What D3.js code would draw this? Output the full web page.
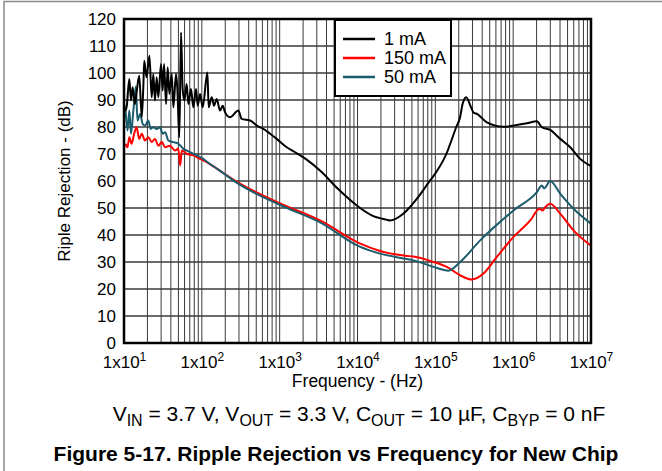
<!DOCTYPE html>
<html>
<head>
<meta charset="utf-8">
<script src="https://cdn.jsdelivr.net/npm/d3@7"></script>
<style>
  body { margin: 0; background: #fff; }
  svg text { font-family: "Liberation Sans", Arial, sans-serif; }
</style>
</head>
<body>
<div id="chart"></div>
<script>
// data (Hz, dB)
const blackFreq = [10.3, 10.8, 11.7, 12.3, 12.9, 13.8, 14.5, 15.7, 16.9, 17.7, 18.2, 19.5, 21.2, 22.7, 23.8, 25.0, 26.3, 27.6, 29.9, 31.4, 32.7, 34.7, 36.4, 38.3, 41.0, 43.1, 46.6, 48.5, 51.4, 54.0, 56.7, 59.6, 63.9, 67.1, 72.6, 77.8, 84.2, 88.5, 94.8, 102.6, 117.8, 122.5, 133.9, 143.6, 155.3, 171.4, 185.4, 198.6, 230, 295, 325, 417, 508, 618, 753, 917, 1233, 1607, 2200, 3404, 5598, 10470, 15240, 23600, 26200, 36560, 43000, 60100, 85700, 99400, 144500, 155000, 185400, 208000, 224000, 249000, 287600, 309000, 346700, 459000, 750000, 1.11e6, 1.5e6, 2.02e6, 2.34e6, 2.99e6, 4.02e6, 5.41e6, 7.27e6, 1e7];
const blackDb = [86, 87.3, 97.8, 89.8, 94.7, 88.5, 92.8, 99.0, 83.6, 94.7, 104.5, 98.4, 106.4, 91.0, 99.6, 89.8, 98.4, 91.0, 103.3, 93.5, 103.3, 88.5, 102.1, 92.2, 99.6, 87.3, 99.6, 94.1, 76.2, 115.0, 94.1, 89.8, 95.9, 88.5, 94.1, 87.3, 94.1, 87.9, 92.2, 87.3, 100.2, 87.3, 91.0, 87.9, 90.4, 86.1, 87.9, 85.5, 83.6, 86.1, 83.0, 82.4, 80.5, 79.3, 77.5, 75.6, 72.5, 70.5, 68, 63.5, 57.1, 50.3, 47.3, 45.7, 45.4, 47.3, 49.1, 54.0, 60.2, 62.7, 71.3, 73.7, 79.9, 83.6, 88.5, 91.0, 87.3, 85.4, 84.8, 81.7, 80.1, 80.7, 81.4, 82.1, 79.9, 78.9, 75.6, 72.5, 68.2, 65.5];

const redFreq = [10.4, 11.1, 11.7, 12.5, 13.5, 14.5, 15.7, 16.9, 18.6, 20.5, 22.7, 25.0, 27.6, 30.6, 33.7, 39.0, 45.1, 49.9, 52.7, 55.4, 63.9, 77.8, 94.8, 115, 163, 279, 1000, 3400, 10500, 19500, 41400, 52400, 94700, 140000, 208000, 294000, 415000, 617000, 1.01e6, 1.66e6, 2.18e6, 2.38e6, 2.58e6, 2.99e6, 4.02e6, 5.96e6, 1e7];
const redDb = [73.8, 72.5, 76.2, 73.8, 77.5, 79.9, 75.6, 77.5, 75.0, 76.2, 74.4, 75.6, 73.1, 74.4, 72.5, 73.1, 71.3, 71.9, 65.7, 71.3, 70.1, 69.5, 68.2, 67.0, 64.2, 59.8, 51.8, 45.2, 37.0, 34.1, 32.3, 32.0, 30.0, 28.2, 25.1, 23.5, 25.7, 31.9, 39.3, 45.4, 49.7, 49.1, 50.3, 51.6, 47.9, 41.7, 36.0];

const tealFreq = [10.4, 11.1, 11.7, 12.3, 13.2, 14.2, 14.9, 16.1, 17.4, 18.6, 20.5, 22.0, 23.8, 26.3, 29.0, 31.4, 33.7, 37.1, 43.1, 49.9, 58.2, 70.5, 85.6, 104, 126, 163, 279, 1000, 3400, 10500, 19500, 41400, 52400, 94700, 147700, 208400, 376700, 1.01e6, 2.02e6, 2.34e6, 2.5e6, 2.99e6, 4.02e6, 5.96e6, 1e7];
const tealDb = [87.9, 78.7, 86.1, 77.5, 86.1, 95.0, 82.4, 84.8, 81.1, 80.5, 82.4, 79.3, 79.9, 79.3, 79.9, 77.5, 78.1, 75.0, 74.4, 73.8, 71.9, 70.7, 69.5, 68.2, 66.4, 64.2, 59.4, 51.2, 44.5, 35.8, 33.1, 31.2, 30.6, 28.2, 26.8, 30.0, 38.0, 49.1, 55.9, 58.3, 57.3, 60.0, 55.3, 49.7, 44.2];

const seriesNames = ["1 mA", "150 mA", "50 mA"];
const seriesColors = ["#000000", "#ff0000", "#1b5c6c"];
const yTicks = d3.range(0, 121, 10);
const xTickExps = [1, 2, 3, 4, 5, 6, 7];

const svgWidth = 662, svgHeight = 471;
const margin = { top: 19, right: 71, bottom: 128, left: 124 };
const width = svgWidth - margin.left - margin.right;
const height = svgHeight - margin.top - margin.bottom;

const svg = d3.select("#chart").append("svg")
  .attr("width", svgWidth)
  .attr("height", svgHeight);

// page frame (left + top edges)
svg.append("path")
  .attr("d", `M4,${svgHeight} V1.5 H${svgWidth}`)
  .attr("fill", "none")
  .attr("stroke", "#8a8a8a")
  .attr("stroke-width", 1.5);

const g = svg.append("g").attr("transform", `translate(${margin.left},${margin.top})`);

const x = d3.scaleLog().domain([10, 1e7]).range([0, width]);
const y = d3.scaleLinear().domain([0, 120]).range([height, 0]);

// grid: vertical minor + decade lines
const vLines = [];
for (let e = 1; e < 7; e++) {
  for (let m = 1; m < 10; m++) vLines.push(m * Math.pow(10, e));
}
g.append("g").selectAll("line").data(vLines).enter().append("line")
  .attr("x1", d => x(d)).attr("x2", d => x(d))
  .attr("y1", 0).attr("y2", height)
  .attr("stroke", "#3a3a3a")
  .attr("stroke-width", 1);

g.append("g").selectAll("line").data(yTicks).enter().append("line")
  .attr("x1", 0).attr("x2", width)
  .attr("y1", d => y(d)).attr("y2", d => y(d))
  .attr("stroke", "#3a3a3a")
  .attr("stroke-width", 1.3);

// y axis labels
const yAxis = d3.axisLeft(y).tickValues(yTicks).tickSize(0).tickPadding(8);
const yg = g.append("g").call(yAxis);
yg.select(".domain").remove();
yg.selectAll("text").attr("font-size", 17).attr("fill", "#000")
  .attr("font-family", "Liberation Sans, Arial, sans-serif");

// x axis labels with superscripts
const xAxis = d3.axisBottom(x).tickValues(xTickExps.map(e => Math.pow(10, e))).tickSize(0).tickFormat("");
const xg = g.append("g").attr("transform", `translate(0,${height})`).call(xAxis);
xg.select(".domain").remove();
xg.selectAll(".tick").append("text")
  .attr("y", 25)
  .attr("text-anchor", "middle")
  .attr("font-size", 17)
  .attr("fill", "#000")
  .each(function(d) {
    const t = d3.select(this);
    t.append("tspan").text("1x10");
    t.append("tspan").attr("dy", -7).attr("font-size", 12).text(Math.round(Math.log10(d)));
  });

// curves
const line = d3.line()
  .x(d => x(d[0]))
  .y(d => y(d[1]))
  .curve(d3.curveMonotoneX);

const series = [
  { name: seriesNames[0], color: seriesColors[0], pts: d3.zip(blackFreq, blackDb) },
  { name: seriesNames[1], color: seriesColors[1], pts: d3.zip(redFreq, redDb) },
  { name: seriesNames[2], color: seriesColors[2], pts: d3.zip(tealFreq, tealDb) }
];

svg.append("clipPath").attr("id", "plotclip")
  .append("rect").attr("width", width).attr("height", height);

const drawOrder = [series[1], series[2], series[0]];
g.append("g").attr("clip-path", "url(#plotclip)")
  .selectAll("path").data(drawOrder).enter().append("path")
  .attr("d", d => line(d.pts))
  .attr("fill", "none")
  .attr("stroke", d => d.color)
  .attr("stroke-width", 2)
  .attr("stroke-linejoin", "round");

// plot frame
g.append("rect")
  .attr("width", width).attr("height", height)
  .attr("fill", "none")
  .attr("stroke", "#000")
  .attr("stroke-width", 2.5);

// legend
const legend = g.append("g").attr("transform", `translate(${335 - margin.left},${20 - margin.top})`);
legend.append("rect")
  .attr("width", 116).attr("height", 76)
  .attr("fill", "#fff")
  .attr("stroke", "#000")
  .attr("stroke-width", 2);
series.forEach((s, i) => {
  const ly = 19 + i * 19;
  legend.append("line")
    .attr("x1", 8).attr("x2", 40)
    .attr("y1", ly).attr("y2", ly)
    .attr("stroke", s.color).attr("stroke-width", 2.5);
  legend.append("text")
    .attr("x", 49).attr("y", ly + 6)
    .attr("font-size", 18)
    .text(s.name);
});

// axis titles
svg.append("text")
  .attr("x", margin.left + width / 2).attr("y", 387)
  .attr("text-anchor", "middle")
  .attr("font-size", 17.5)
  .text("Frequency -  (Hz)");

svg.append("text")
  .attr("transform", `translate(70,${margin.top + height / 2}) rotate(-90)`)
  .attr("text-anchor", "middle")
  .attr("font-size", 17)
  .text("Riple Rejection - (dB)");

// conditions line with subscripts
const cond = svg.append("text")
  .attr("x", 359).attr("y", 421)
  .attr("text-anchor", "middle")
  .attr("font-size", 21);
const parts = [
  ["V", "IN", " = 3.7 V, "],
  ["V", "OUT", " = 3.3 V, "],
  ["C", "OUT", " = 10 µF, "],
  ["C", "BYP", " = 0 nF"]
];
parts.forEach(p => {
  cond.append("tspan").text(p[0]);
  cond.append("tspan").attr("dy", 5).attr("font-size", 16).text(p[1]);
  cond.append("tspan").attr("dy", -5).text(p[2]);
});

svg.append("text")
  .attr("x", 336).attr("y", 461)
  .attr("text-anchor", "middle")
  .attr("font-size", 21)
  .attr("font-weight", "bold")
  .text("Figure 5-17. Ripple Rejection vs Frequency for New Chip");
</script>
</body>
</html>
